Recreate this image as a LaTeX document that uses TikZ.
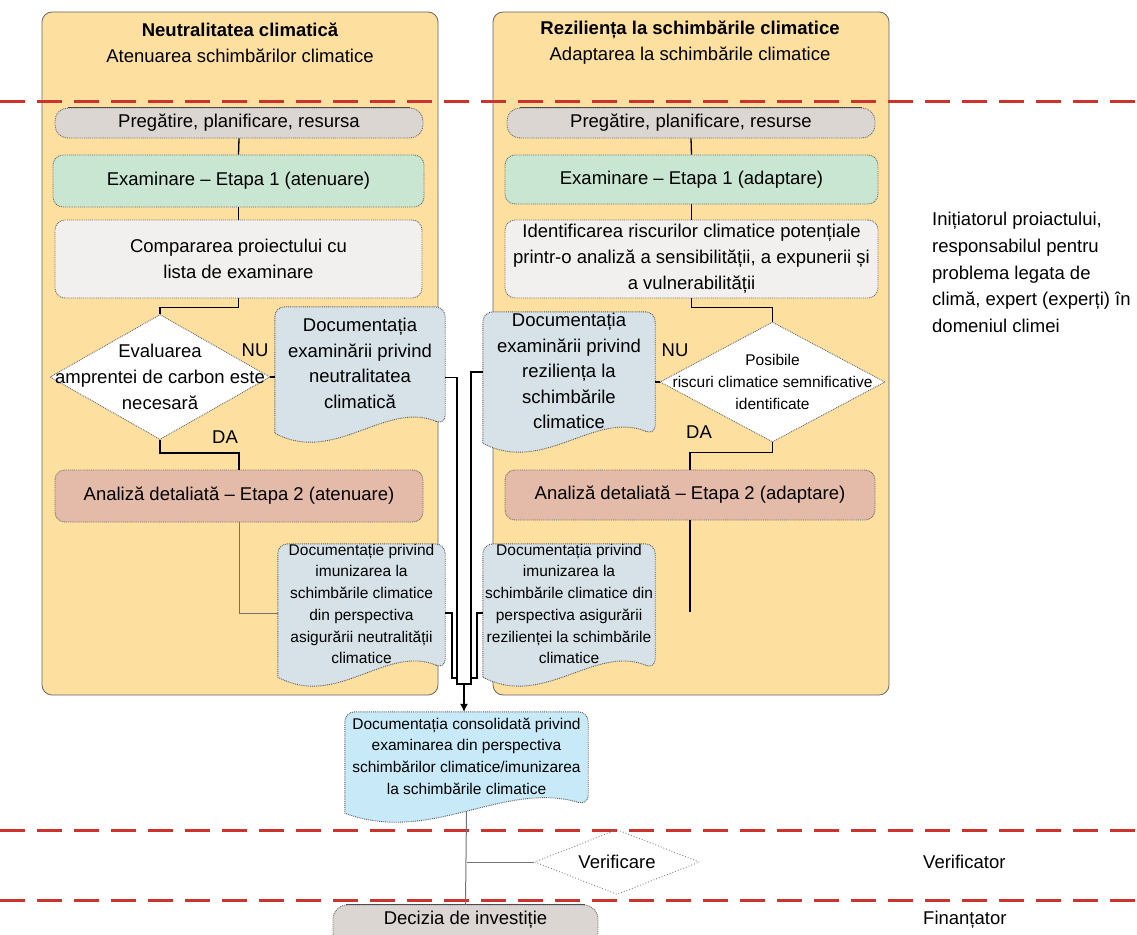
\documentclass[tikz,border=0pt]{standalone}
\usepackage{fontspec}
\setmainfont{Liberation Sans}
\usetikzlibrary{shapes.geometric,calc,arrows.meta}
\pgfdeclarelayer{bg}\pgfdeclarelayer{mid}
\pgfsetlayers{bg,mid,main}
\definecolor{panelc}{HTML}{FDDFA0}
\definecolor{prepc}{HTML}{DCD6D3}
\definecolor{greenc}{HTML}{C8E6D2}
\definecolor{compc}{HTML}{F1F0EF}
\definecolor{salmonc}{HTML}{E4BBA8}
\definecolor{docc}{HTML}{D6E2E8}
\definecolor{consc}{HTML}{C8E9F8}
\definecolor{redc}{HTML}{CD322D}
\newcommand\fsmain{\fontsize{18.5}{26}\selectfont}
\newcommand\fsdoc{\fontsize{18.5}{25.5}\selectfont}
\newcommand\fssmall{\fontsize{15.5}{21.7}\selectfont}
\newcommand\docshape[2]{%
 \begin{pgfonlayer}{mid}
 \path[fill=#2, draw=black!65, densely dotted, line width=0.9pt]
   ($(#1.south east)+(0,5)$) .. controls ($(#1.south west)!0.65!(#1.south east)+(0,-20)$) and ($(#1.south west)!0.35!(#1.south east)+(0,45)$) .. ($(#1.south west)+(0,13)$)
   [rounded corners=10pt] -- (#1.north west) -- (#1.north east) -- cycle;
 \end{pgfonlayer}}
\tikzset{
 box/.style={rectangle, rounded corners=10pt, draw=black!60, densely dotted, line width=0.9pt, align=center, inner sep=0pt, font=\fsmain},
 docnode/.style={rectangle, inner sep=0pt, align=center, font=\fsdoc},
 smalldoc/.style={rectangle, inner sep=0pt, align=center, font=\fssmall},
 dia/.style={diamond, inner sep=0pt, fill=white, draw=black!60, densely dotted, line width=0.9pt},
 lbl/.style={inner sep=0pt, font=\fsmain},
 conn/.style={draw=black, line width=1.3pt},
 gline/.style={draw=black!55, line width=1pt},
 reddash/.style={draw=redc, line width=3pt, dash pattern=on 25pt off 12pt},
 panel/.style={fill=panelc, draw=black!60, line width=0.8pt, rounded corners=10pt},
}
\begin{document}
\begin{tikzpicture}[x=1pt,y=-1pt]
\useasboundingbox (0,0) rectangle (1137,934);
\begin{pgfonlayer}{bg}
 \path[panel] (42,12) rectangle (438,695);
 \path[panel] (493,12) rectangle (889,695);
 \draw[reddash] (0,101) -- (1137,101);
 \draw[reddash] (0,830) -- (1137,830);
 \draw[reddash] (0,900) -- (1137,900);
\end{pgfonlayer}

% titles
\node[lbl, font=\bfseries\fsmain] (lt1) at (240,30) {Neutralitatea climatică};
\node[lbl] (lt2) at (240,56) {Atenuarea schimbărilor climatice};
\node[lbl, font=\bfseries\fsmain] (rt1) at (690,30) {Reziliența la schimbările climatice};
\node[lbl] (rt2) at (690,56) {Adaptarea la schimbările climatice};

% left column
\node[box, fill=prepc, rounded corners=13pt, minimum width=368pt, minimum height=30pt] (lprep) at (239,123) {Pregătire, planificare, resursa};
\node[box, fill=greenc, minimum width=371pt, minimum height=52pt] (lex1) at (238.5,181) {Examinare – Etapa 1 (atenuare)};
\node[box, fill=compc, minimum width=367pt, minimum height=78pt] (lcomp) at (238.5,259) {Compararea proiectului cu\\lista de examinare};
\node[dia, minimum width=220pt, minimum height=125pt] (ldia) at (160,377) {};
\node[lbl, align=center] (ldiat) at (ldia.center) {Evaluarea\\amprentei de carbon este\\necesară};
\node[docnode, minimum width=170pt, minimum height=113pt] (ld1) at (360,363.5) {Documentația\\examinării privind\\neutralitatea\\climatică};
\docshape{ld1}{docc}
\node[box, fill=salmonc, minimum width=368pt, minimum height=52pt] (lan) at (239,496) {Analiză detaliată – Etapa 2 (atenuare)};
\node[smalldoc, minimum width=167pt, minimum height=115pt] (ld2) at (361.5,604) {Documentație privind\\imunizarea la\\schimbările climatice\\din perspectiva\\asigurării neutralității\\climatice};
\docshape{ld2}{docc}
\node[lbl] (lnu) at (255,350) {NU};
\node[lbl] (lda) at (225,437) {DA};

% right column
\node[box, fill=prepc, rounded corners=13pt, minimum width=368pt, minimum height=30pt] (rprep) at (691,123) {Pregătire, planificare, resurse};
\node[box, fill=greenc, minimum width=373pt, minimum height=49pt] (rex1) at (691.5,179.5) {Examinare – Etapa 1 (adaptare)};
\node[box, fill=compc, minimum width=373pt, minimum height=78pt] (rid) at (691.5,259) {Identificarea riscurilor climatice potențiale\\printr-o analiză a sensibilității, a expunerii și\\a vulnerabilității};
\node[dia, minimum width=225pt, minimum height=120pt] (rdia) at (772.5,382) {};
\node[lbl, font=\fssmall, align=center] (rdiat) at (rdia.center) {Posibile\\riscuri climatice semnificative\\identificate};
\node[docnode, minimum width=172pt, minimum height=118pt] (rd1) at (569,371) {Documentația\\examinării privind\\reziliența la\\schimbările\\climatice};
\docshape{rd1}{docc}
\node[box, fill=salmonc, minimum width=370pt, minimum height=50pt] (ran) at (690,495) {Analiză detaliată – Etapa 2 (adaptare)};
\node[smalldoc, minimum width=172pt, minimum height=117pt] (rd2) at (569,604) {Documentația privind\\imunizarea la\\schimbările climatice din\\perspectiva asigurării\\rezilienței la schimbările\\climatice};
\docshape{rd2}{docc}
\node[lbl] (rnu) at (675,350) {NU};
\node[lbl] (rda) at (699,432) {DA};

% consolidated and bottom
\node[smalldoc, minimum width=243pt, minimum height=88pt] (cons) at (466.5,756) {Documentația consolidată privind\\examinarea din perspectiva\\schimbărilor climatice/imunizarea\\la schimbările climatice};
\docshape{cons}{consc}
\node[dia, fill=none, draw=black!50, dotted, minimum width=165pt, minimum height=65pt] (ver) at (617,862) {};
\node[lbl] (vert) at (ver.center) {Verificare};
\node[box, fill=prepc, rounded corners=14pt, minimum width=265pt, minimum height=42pt] (dec) at (465.5,926) {};
\node[lbl] (dect) at (465.5,920) {Decizia de investiție};

% top solid edges
\draw[black!70, line width=1pt] ($(lprep.north west)+(13,0)$) -- ($(lprep.north east)+(-13,0)$);
\draw[black!70, line width=1pt] ($(rprep.north west)+(13,0)$) -- ($(rprep.north east)+(-13,0)$);
\draw[black!70, line width=1pt] ($(dec.north west)+(13,0)$) -- ($(dec.north east)+(-13,0)$);

% right labels
\node[lbl, anchor=north west, align=left, font=\fontsize{18.5}{26.7}\selectfont] (roles) at (932,212) {Inițiatorul proiactului,\\responsabilul pentru\\problema legata de\\climă, expert (experți) în\\domeniul climei};
\node[lbl, anchor=west] (verif) at (923,862) {Verificator};
\node[lbl, anchor=west] (fin) at (923,920) {Finanțator};

% left connectors
\draw[conn] (lprep.south) -- (lex1.north);
\draw[conn] (lex1.south) -- (lcomp.north);
\draw[conn] (lcomp.south) -- ++(0,9) -| (ldia.north);
\draw[conn] (ldia.east) -- (ldia.east -| ld1.west);
\draw[conn] (ldia.south) -- ++(0,13) -| (lan.north);
\draw[gline] (lan.south) |- ($(ld2.west)+(0,9)$);

% right connectors
\draw[conn] (rprep.south) -- (rex1.north);
\draw[conn] (rex1.south) -- (rid.north);
\draw[conn] (rid.south) -- ++(0,9) -| (rdia.north);
\draw[conn] (rdia.west) -- (rdia.west -| rd1.east);
\draw[conn] (rdia.south) -- ++(0,10) -| (ran.north);
\coordinate (rend) at ($(ran.south)+(0,92)$);
\draw[conn] (ran.south) -- (rend);

% merging connectors
\coordinate (m) at (464,684);
\draw[conn, line width=1.1pt] ($(ld1.east)+(0,14)$) -| (457,684) -- (m);
\draw[conn, line width=1.1pt] ($(rd1.west)+(0,1)$) -| (471,684) -- (m);
\draw[conn, line width=1.1pt] ($(ld2.east)+(0,9)$) -| (452,678) -- (457,678);
\draw[conn, line width=1.1pt] ($(rd2.west)+(0,9)$) -| (477,678) -- (471,678);
\draw[conn, line width=1.1pt, -{Latex[length=8pt,width=8pt]}] (m) -- (cons.north -| m);

% bottom connectors
\draw[gline] ($(cons.south)+(0,11)$) -- (dec.north);
\draw[gline] (cons.south |- ver.west) -- (ver.west);
\end{tikzpicture}
\end{document}
